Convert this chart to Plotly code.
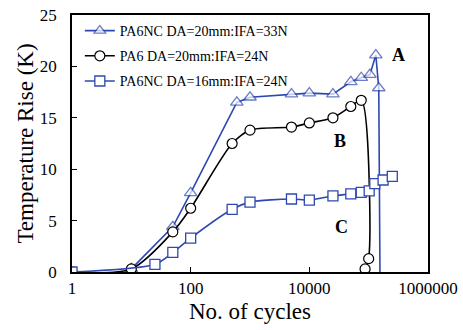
import math
import plotly.graph_objects as go

# Data
x_tri = [10, 50, 100, 600, 1000, 5000, 10000, 25000, 50000, 75000, 105000, 132000, 148000, 155000]
y_tri = [0.3, 4.4, 7.7, 16.5, 17.0, 17.3, 17.4, 17.3, 18.5, 18.9, 19.2, 21.1, 17.9, 0]

x_circ = [1, 10, 50, 100, 500, 1000, 5000, 10000, 25000, 50000, 75000, 100000, 87000]
y_circ = [0, 0.3, 3.9, 6.2, 12.5, 13.8, 14.1, 14.5, 15.0, 16.1, 16.7, 1.3, 0.3]

x_sq = [1, 25, 50, 100, 500, 1000, 5000, 10000, 25000, 50000, 75000, 102000, 127000, 175000, 250000]
y_sq = [0, 0.75, 1.9, 3.3, 6.1, 6.8, 7.1, 7.0, 7.4, 7.6, 7.75, 7.9, 8.6, 8.95, 9.3]

names = ["PA6NC DA=20mm:IFA=33N", "PA6 DA=20mm:IFA=24N", "PA6NC DA=16mm:IFA=24N"]
x_ticks = [1, 100, 10000, 1000000]
x_ticklabels = ["1", "100", "10000", "1000000"]
y_ticks = [0, 5, 10, 15, 20, 25]

labels = ["A", "B", "C"]
label_x = [320000, 33000, 35000]
label_y = [21.1, 12.7, 4.4]

BLUE = "#2E48B0"
FONT = "Liberation Serif"

fig = go.Figure()
tri_sizes = [11] * (len(x_tri) - 1) + [0]
fig.add_trace(go.Scatter(
    x=x_tri, y=y_tri, name=names[0], mode="lines+markers",
    line=dict(color=BLUE, width=1.6, shape="linear"),
    marker=dict(symbol="triangle-up", size=tri_sizes, color="white",
                line=dict(color=BLUE, width=1.3)),
    legendgroup="a",
))
fig.add_trace(go.Scatter(
    x=x_circ, y=y_circ, name=names[1], mode="lines+markers",
    line=dict(color="black", width=1.6, shape="spline", smoothing=0.8),
    marker=dict(symbol="circle", size=10, color="white",
                line=dict(color="black", width=1.2)),
    legendgroup="b",
))
fig.add_trace(go.Scatter(
    x=x_sq, y=y_sq, name=names[2], mode="lines+markers",
    line=dict(color=BLUE, width=1.6, shape="spline", smoothing=0.8),
    marker=dict(symbol="square", size=10, color="white",
                line=dict(color=BLUE, width=1.3)),
    legendgroup="c",
))

for t, lx, ly in zip(labels, label_x, label_y):
    fig.add_annotation(x=math.log10(lx), y=ly, text=f"<b>{t}</b>", showarrow=False,
                       font=dict(family=FONT, size=18, color="black"))

fig.update_layout(
    width=463, height=330,
    margin=dict(l=72, r=35, t=15, b=58, autoexpand=False),
    paper_bgcolor="white", plot_bgcolor="white",
    font=dict(family=FONT, color="black"),
    showlegend=True,
    legend=dict(x=0.022, y=1.0, xanchor="left", yanchor="top",
                bgcolor="rgba(0,0,0,0)", font=dict(family=FONT, size=14),
                traceorder="grouped", tracegroupgap=4),
    xaxis=dict(type="log", range=[0, 6], tickvals=x_ticks, ticktext=x_ticklabels,
               ticks="inside", ticklen=5, tickcolor="black", automargin=False,
               showline=True, mirror=True, linecolor="black", linewidth=1.5,
               showgrid=False, zeroline=False, ticklabeloverflow="allow",
               tickfont=dict(family=FONT, size=17),
               title=dict(text="No. of cycles", font=dict(family=FONT, size=23), standoff=6)),
    yaxis=dict(range=[0, 25], tickvals=y_ticks, automargin=False,
               ticks="inside", ticklen=5, tickcolor="black",
               showline=True, mirror=True, linecolor="black", linewidth=1.5,
               showgrid=False, zeroline=False, ticklabelstandoff=10,
               ticklabeloverflow="allow",
               tickfont=dict(family=FONT, size=17),
               title=dict(text="Temperature Rise (K)", font=dict(family=FONT, size=23), standoff=0)),
)

# Remove the default 8px page margin so the figure sits at the window origin.
fig.write_html("out.html",
               config={"displayModeBar": False},
               post_script="document.body.style.margin='0';document.body.style.overflow='hidden';")
